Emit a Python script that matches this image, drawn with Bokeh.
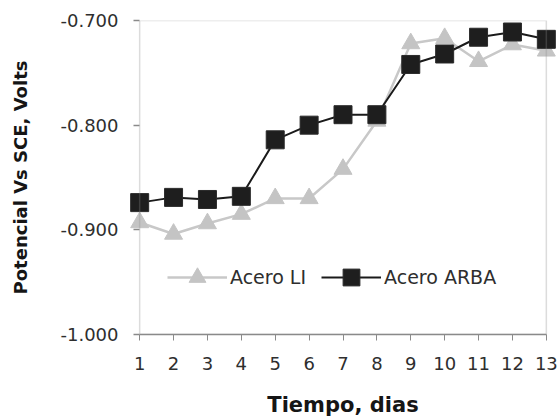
from bokeh.plotting import figure
from bokeh.models import (Range1d, FixedTicker, NumeralTickFormatter, Legend, LegendItem,
                          BoxAnnotation)
from bokeh.embed import file_html
from bokeh.resources import INLINE

# ---- data ----
days = [1, 2, 3, 4, 5, 6, 7, 8, 9, 10, 11, 12, 13]
acero_li = [-0.893, -0.904, -0.894, -0.885, -0.870, -0.870, -0.842, -0.796,
            -0.722, -0.717, -0.739, -0.723, -0.729]
acero_arba = [-0.874, -0.869, -0.871, -0.868, -0.814, -0.800, -0.790, -0.790,
              -0.742, -0.732, -0.716, -0.711, -0.718]
y_ticks = [-1.0, -0.9, -0.8, -0.7]
x_label = "Tiempo, dias"
y_label = "Potencial Vs SCE, Volts"
series_names = ["Acero LI", "Acero ARBA"]

x_min, x_max = days[0], days[-1]
y_min, y_max = y_ticks[0], y_ticks[-1]
pad = 0.3

AXIS_COLOR = "#8a8a8a"
TEXT_COLOR = "#2e2e2e"
FONT = "DejaVu Sans"

p = figure(width=558, height=416, output_backend="svg", toolbar_location=None,
           x_range=Range1d(x_min - pad, x_max + pad), y_range=Range1d(y_min, y_max),
           min_border_left=129, min_border_right=2, min_border_top=20, min_border_bottom=82,
           frame_width=427, frame_height=314)
p.outline_line_color = None
p.grid.visible = False
p.background_fill_color = "white"
p.border_fill_color = "white"

# box around data area
box = BoxAnnotation(left=x_min, right=x_max, bottom=y_min, top=y_max,
                    fill_alpha=0, line_color=AXIS_COLOR, line_width=1.5)
p.add_layout(box)

# series
l1 = p.line(days, acero_li, line_color="#c8c8c8", line_width=2.5)
s1 = p.scatter(days, acero_li, marker="triangle", size=18, fill_color="#c4c4c4",
               line_color="#c4c4c4")
l2 = p.line(days, acero_arba, line_color="#1a1a1a", line_width=2)
s2 = p.scatter(days, acero_arba, marker="square", size=18, fill_color="#1e1e1e",
               line_color="#2a2a2a")

# axes
xa = p.xaxis[0]
xa.ticker = FixedTicker(ticks=days)
xa.bounds = (x_min, x_max)
xa.axis_line_color = AXIS_COLOR
xa.axis_line_width = 1.5
xa.major_tick_line_color = AXIS_COLOR
xa.major_tick_in = 0
xa.major_tick_out = 6
xa.minor_tick_line_color = None
xa.major_label_text_font = FONT
xa.major_label_text_font_size = "18px"
xa.major_label_text_color = TEXT_COLOR
xa.major_label_standoff = 16
xa.axis_label = x_label
xa.axis_label_text_font = FONT
xa.axis_label_text_font_style = "bold"
xa.axis_label_text_font_size = "21px"
xa.axis_label_text_color = "#151515"
xa.axis_label_standoff = 20

ya = p.yaxis[0]
ya.ticker = FixedTicker(ticks=y_ticks)
ya.formatter = NumeralTickFormatter(format="0.000")
ya.axis_line_color = None
ya.major_tick_line_color = AXIS_COLOR
ya.major_tick_line_width = 1.5
ya.major_tick_in = 10
ya.major_tick_out = -4
ya.minor_tick_line_color = None
ya.major_label_text_font = FONT
ya.major_label_text_font_size = "18px"
ya.major_label_text_color = TEXT_COLOR
ya.major_label_standoff = 11
ya.axis_label = y_label
ya.axis_label_text_font = FONT
ya.axis_label_text_font_style = "bold"
ya.axis_label_text_font_size = "18px"
ya.axis_label_text_color = "#151515"
ya.axis_label_standoff = 26

legend = Legend(items=[LegendItem(label=series_names[0], renderers=[l1, s1]),
                       LegendItem(label=series_names[1], renderers=[l2, s2])],
                orientation="horizontal", location=(38, 36),
                border_line_color=None, background_fill_alpha=0,
                padding=0, margin=0, spacing=15,
                glyph_width=60, glyph_height=42, label_height=42, label_standoff=3,
                label_text_font=FONT, label_text_font_size="19px",
                label_text_color=TEXT_COLOR)
p.add_layout(legend)

open("out.html", "w").write(file_html(p, INLINE))
